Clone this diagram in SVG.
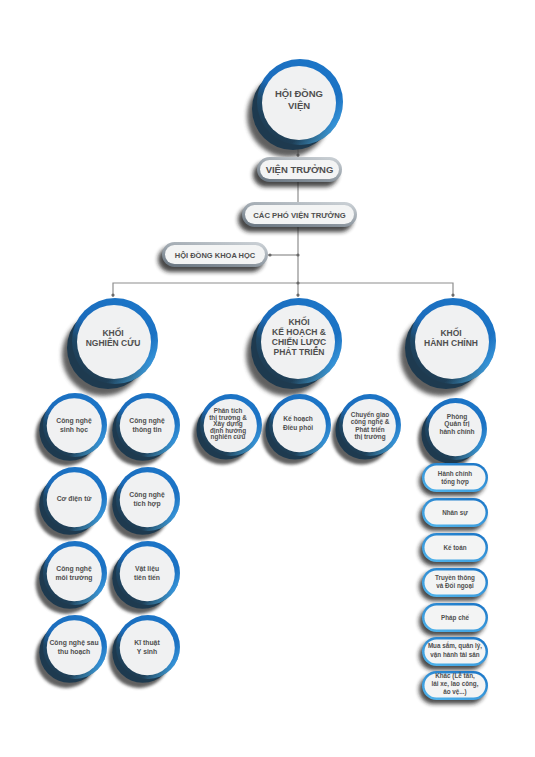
<svg xmlns="http://www.w3.org/2000/svg" xmlns:xlink="http://www.w3.org/1999/xlink" width="535" height="757" viewBox="0 0 535 757">
<style>
.t{font-family:"Liberation Sans",Arial,sans-serif;font-weight:bold;fill:#4f4f4f;text-anchor:middle}
.ln{stroke:#8e8e8e;stroke-width:1.2;fill:none}
.dot{fill:#6a6a6a}
.psh{fill:#1c1c1c;opacity:.8}
.pin{fill:#f3f4f4}
</style>
<defs>
<filter id="bl3" x="-50%" y="-50%" width="200%" height="200%"><feGaussianBlur stdDeviation="2.2"/></filter>
<filter id="bl2" x="-50%" y="-50%" width="200%" height="200%"><feGaussianBlur stdDeviation="2"/></filter>
<linearGradient id="ring" x1="0.8" y1="0.05" x2="0.2" y2="0.95">
<stop offset="0" stop-color="#1c76c8"/>
<stop offset="0.5" stop-color="#1b6cbc"/>
<stop offset="0.72" stop-color="#1f4866"/>
<stop offset="1" stop-color="#1e3a4f"/>
</linearGradient>
<linearGradient id="ringHi" x1="0.3" y1="0.3" x2="0.95" y2="0.95">
<stop offset="0.6" stop-color="#4ab0ea" stop-opacity="0"/>
<stop offset="1" stop-color="#4ab0ea" stop-opacity="1"/>
</linearGradient>
<linearGradient id="gpill" x1="0.8" y1="0" x2="0.2" y2="1">
<stop offset="0" stop-color="#c8ced3"/>
<stop offset="1" stop-color="#6d7984"/>
</linearGradient>
<linearGradient id="bpill" x1="0.8" y1="0" x2="0.2" y2="1">
<stop offset="0" stop-color="#1d78c8"/>
<stop offset="1" stop-color="#4fb2ea"/>
</linearGradient>
<g id="cBig">
<circle cx="-12" cy="14" r="41" fill="#444" opacity=".85" filter="url(#bl3)"/>
<circle cx="-7" cy="7" r="41" fill="#1e3a4f"/>
<circle r="43" fill="url(#ring)"/>
<circle r="43" fill="url(#ringHi)"/>
<circle cx="-1" cy="1" r="37" fill="#f0f1f2"/>
</g>
</defs>

<g id="connectors">
<line class="ln" x1="298" y1="144" x2="298" y2="157"/>
<line class="ln" x1="298" y1="182" x2="298" y2="202"/>
<line class="ln" x1="298" y1="227" x2="298" y2="283"/>
<line class="ln" x1="268" y1="255" x2="298" y2="255"/>
<polyline class="ln" points="113,297 113,283 453,283 453,297"/>
<line class="ln" x1="298" y1="283" x2="298" y2="297"/>
<circle class="dot" cx="298" cy="155" r="1.6"/>
<circle class="dot" cx="270" cy="255" r="1.6"/>
<circle class="dot" cx="298" cy="255" r="1.6"/>
<circle class="dot" cx="298" cy="283" r="1.6"/>
<circle class="dot" cx="113" cy="295" r="1.6"/>
<circle class="dot" cx="298" cy="295" r="1.6"/>
<circle class="dot" cx="453" cy="295" r="1.6"/>
</g>

<g id="hoi-dong-vien" transform="translate(300,102)">
<use xlink:href="#cBig"/>
<text class="t" font-size="9.5" x="-1" y="-5.5">HỘI ĐỒNG</text>
<text class="t" font-size="9.5" x="-1" y="6.5">VIỆN</text>
</g>

<g id="vien-truong">
<rect class="psh" x="253" y="162" width="85" height="25" rx="12.5" filter="url(#bl2)"/>
<rect x="257" y="157" width="85" height="25" rx="12.5" fill="url(#gpill)"/>
<rect class="pin" x="260" y="160" width="79" height="19" rx="9.5"/>
<text class="t" font-size="9.5" x="299.5" y="173">VIỆN TRƯỞNG</text>
</g>

<g id="cac-pho-vien-truong">
<rect class="psh" x="238" y="207" width="115" height="25" rx="12.5" filter="url(#bl2)"/>
<rect x="242" y="202" width="115" height="25" rx="12.5" fill="url(#gpill)"/>
<rect class="pin" x="245" y="205" width="109" height="19" rx="9.5"/>
<text class="t" font-size="7.7" x="299.5" y="217.5">CÁC PHÓ VIỆN TRƯỞNG</text>
</g>

<g id="hoi-dong-khoa-hoc">
<rect class="psh" x="158" y="247" width="106" height="25" rx="12.5" filter="url(#bl2)"/>
<rect x="162" y="242" width="106" height="25" rx="12.5" fill="url(#gpill)"/>
<rect class="pin" x="165" y="245" width="100" height="19" rx="9.5"/>
<text class="t" font-size="7.5" x="215" y="257.5">HỘI ĐỒNG KHOA HỌC</text>
</g>

<g id="khoi-nghien-cuu" transform="translate(115,341)">
<use xlink:href="#cBig"/>
<text class="t" font-size="8.5" x="-2" y="-5.3">KHỐI</text>
<text class="t" font-size="8.5" x="-2" y="4.7">NGHIÊN CỨU</text>
</g>

<g id="khoi-ke-hoach" transform="translate(299,341)">
<use xlink:href="#cBig"/>
<text class="t" font-size="8.5" x="0" y="-16">KHỐI</text>
<text class="t" font-size="8.5" x="0" y="-6">KẾ HOẠCH &amp;</text>
<text class="t" font-size="8.5" x="0" y="4">CHIẾN LƯỢC</text>
<text class="t" font-size="8.5" x="0" y="14">PHÁT TRIỂN</text>
</g>

<g id="khoi-hanh-chinh" transform="translate(453,341)">
<use xlink:href="#cBig"/>
<text class="t" font-size="8.5" x="-2" y="-5.3">KHỐI</text>
<text class="t" font-size="8.5" x="-2" y="4.7">HÀNH CHÍNH</text>
</g>

<g id="cn-sinh-hoc" transform="translate(75,425)">
<use xlink:href="#cBig" transform="scale(0.744)"/>
<text class="t" font-size="6.8" x="-1" y="-1.6">Công nghệ</text>
<text class="t" font-size="6.8" x="-1" y="6.7">sinh học</text>
</g>
<g id="cn-thong-tin" transform="translate(148,425)">
<use xlink:href="#cBig" transform="scale(0.744)"/>
<text class="t" font-size="6.8" x="-1" y="-1.6">Công nghệ</text>
<text class="t" font-size="6.8" x="-1" y="6.7">thông tin</text>
</g>
<g id="co-dien-tu" transform="translate(75,499)">
<use xlink:href="#cBig" transform="scale(0.744)"/>
<text class="t" font-size="6.8" x="-1" y="2.4">Cơ điện tử</text>
</g>
<g id="cn-tich-hop" transform="translate(148,499)">
<use xlink:href="#cBig" transform="scale(0.744)"/>
<text class="t" font-size="6.8" x="-1" y="-1.6">Công nghệ</text>
<text class="t" font-size="6.8" x="-1" y="6.7">tích hợp</text>
</g>
<g id="cn-moi-truong" transform="translate(75,573)">
<use xlink:href="#cBig" transform="scale(0.744)"/>
<text class="t" font-size="6.8" x="-1" y="-1.6">Công nghệ</text>
<text class="t" font-size="6.8" x="-1" y="6.7">môi trường</text>
</g>
<g id="vat-lieu" transform="translate(148,573)">
<use xlink:href="#cBig" transform="scale(0.744)"/>
<text class="t" font-size="6.8" x="-1" y="-1.6">Vật liệu</text>
<text class="t" font-size="6.8" x="-1" y="6.7">tiên tiến</text>
</g>
<g id="cn-sau-thu-hoach" transform="translate(75,647)">
<use xlink:href="#cBig" transform="scale(0.744)"/>
<text class="t" font-size="6.8" x="-1" y="-1.6">Công nghệ sau</text>
<text class="t" font-size="6.8" x="-1" y="6.7">thu hoạch</text>
</g>
<g id="ky-thuat-y-sinh" transform="translate(148,647)">
<use xlink:href="#cBig" transform="scale(0.744)"/>
<text class="t" font-size="6.8" x="-1" y="-1.6">Kĩ thuật</text>
<text class="t" font-size="6.8" x="-1" y="6.7">Y sinh</text>
</g>

<g id="phan-tich" transform="translate(231,425)">
<use xlink:href="#cBig" transform="scale(0.72)"/>
<text class="t" font-size="6.4" x="-3" y="-12">Phân tích</text>
<text class="t" font-size="6.4" x="-3" y="-5.4">thị trường &amp;</text>
<text class="t" font-size="6.4" x="-3" y="1.2">Xây dựng</text>
<text class="t" font-size="6.4" x="-3" y="7.8">định hướng</text>
<text class="t" font-size="6.4" x="-3" y="14.4">nghiên cứu</text>
</g>
<g id="ke-hoach-dieu-phoi" transform="translate(300,425)">
<use xlink:href="#cBig" transform="scale(0.72)"/>
<text class="t" font-size="6.6" x="-2" y="-3.7">Kế hoạch</text>
<text class="t" font-size="6.6" x="-2" y="5">Điều phối</text>
</g>
<g id="chuyen-giao" transform="translate(370,425)">
<use xlink:href="#cBig" transform="scale(0.72)"/>
<text class="t" font-size="6.4" x="0" y="-8">Chuyển giao</text>
<text class="t" font-size="6.4" x="0" y="-0.7">công nghệ &amp;</text>
<text class="t" font-size="6.4" x="0" y="6.6">Phát triển</text>
<text class="t" font-size="6.4" x="0" y="13.9">thị trường</text>
</g>

<g id="phong-quan-tri" transform="translate(456,429)">
<use xlink:href="#cBig" transform="scale(0.72)"/>
<text class="t" font-size="6.6" x="1" y="-10.5">Phòng</text>
<text class="t" font-size="6.6" x="1" y="-2.7">Quản trị</text>
<text class="t" font-size="6.6" x="1" y="5.1">hành chính</text>
</g>

<g id="hanh-chinh-tong-hop">
<rect class="psh" x="419" y="467" width="66" height="29" rx="14.5" filter="url(#bl2)"/>
<rect x="422" y="463" width="66" height="29" rx="14.5" fill="url(#bpill)"/>
<rect class="pin" x="424.5" y="465.5" width="61" height="24" rx="12"/>
<text class="t" font-size="6.3" x="455" y="475.6">Hành chính</text>
<text class="t" font-size="6.3" x="455" y="483.8">tổng hợp</text>
</g>
<g id="nhan-su">
<rect class="psh" x="419" y="502" width="66" height="29" rx="14.5" filter="url(#bl2)"/>
<rect x="422" y="498" width="66" height="29" rx="14.5" fill="url(#bpill)"/>
<rect class="pin" x="424.5" y="500.5" width="61" height="24" rx="12"/>
<text class="t" font-size="6.3" x="455" y="514.8">Nhân sự</text>
</g>
<g id="ke-toan">
<rect class="psh" x="419" y="537" width="66" height="29" rx="14.5" filter="url(#bl2)"/>
<rect x="422" y="533" width="66" height="29" rx="14.5" fill="url(#bpill)"/>
<rect class="pin" x="424.5" y="535.5" width="61" height="24" rx="12"/>
<text class="t" font-size="6.3" x="455" y="549.8">Kế toán</text>
</g>
<g id="truyen-thong">
<rect class="psh" x="419" y="572" width="66" height="29" rx="14.5" filter="url(#bl2)"/>
<rect x="422" y="568" width="66" height="29" rx="14.5" fill="url(#bpill)"/>
<rect class="pin" x="424.5" y="570.5" width="61" height="24" rx="12"/>
<text class="t" font-size="6.3" x="455" y="579.8">Truyền thông</text>
<text class="t" font-size="6.3" x="455" y="587.8">và Đối ngoại</text>
</g>
<g id="phap-che">
<rect class="psh" x="419" y="607" width="66" height="29" rx="14.5" filter="url(#bl2)"/>
<rect x="422" y="603" width="66" height="29" rx="14.5" fill="url(#bpill)"/>
<rect class="pin" x="424.5" y="605.5" width="61" height="24" rx="12"/>
<text class="t" font-size="6.3" x="455" y="619.8">Pháp chế</text>
</g>
<g id="mua-sam">
<rect class="psh" x="419" y="641" width="66" height="29" rx="14.5" filter="url(#bl2)"/>
<rect x="422" y="637" width="66" height="29" rx="14.5" fill="url(#bpill)"/>
<rect class="pin" x="424.5" y="639.5" width="61" height="24" rx="12"/>
<text class="t" font-size="6.3" x="455" y="648">Mua sắm, quản lý,</text>
<text class="t" font-size="6.3" x="455" y="656.6">vận hành tài sản</text>
</g>
<g id="khac">
<rect class="psh" x="419" y="675" width="66" height="29" rx="14.5" filter="url(#bl2)"/>
<rect x="422" y="671" width="66" height="29" rx="14.5" fill="url(#bpill)"/>
<rect class="pin" x="424.5" y="673.5" width="61" height="24" rx="12"/>
<text class="t" font-size="6.3" x="455" y="678">Khác (Lễ tân,</text>
<text class="t" font-size="6.3" x="455" y="686">lái xe, lao công,</text>
<text class="t" font-size="6.3" x="455" y="694">ảo vệ...)</text>
</g>
</svg>
